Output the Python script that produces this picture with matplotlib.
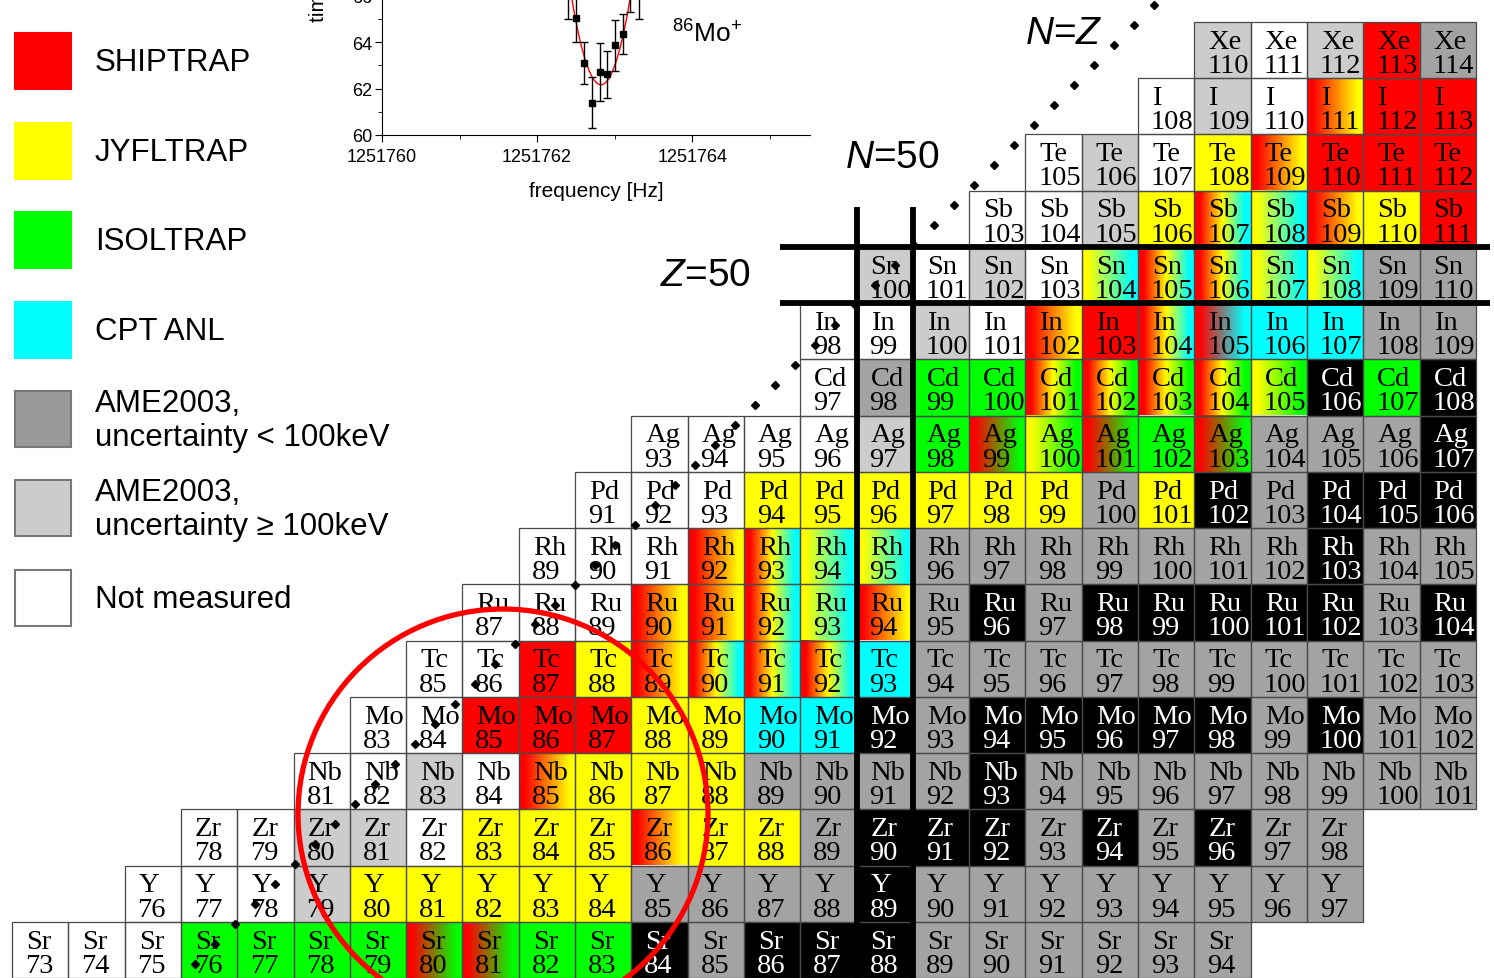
import numpy as np
import matplotlib.pyplot as plt
from matplotlib.patches import Rectangle, Circle

plt.rcParams['font.family'] = ['Liberation Sans', 'DejaVu Sans']
plt.rcParams['mathtext.fontset'] = 'custom'
plt.rcParams['mathtext.rm'] = 'Liberation Sans'
plt.rcParams['mathtext.it'] = 'Liberation Sans:italic'

# chart of nuclides, one row per element
elements = ['Sr', 'Y', 'Zr', 'Nb', 'Mo', 'Tc', 'Ru', 'Rh', 'Pd', 'Ag', 'Cd', 'In', 'Sn', 'Sb', 'Te', 'I', 'Xe']
z_values = [38, 39, 40, 41, 42, 43, 44, 45, 46, 47, 48, 49, 50, 51, 52, 53, 54]
first_mass = [73, 76, 78, 81, 83, 85, 87, 89, 91, 93, 97, 98, 100, 103, 105, 108, 110]
# R SHIPTRAP, Y JYFLTRAP, G ISOLTRAP, C CPT, D AME<100keV, L AME>=100keV, W not measured, K stable
cell_codes = [
    'W W W G G G G RG RG G G K D K K K D D D D D D',
    'W W W L Y Y Y Y Y D D D D K D D D D D D D D',
    'W W L L W Y Y Y RY Y Y D K K K D K D K D D',
    'W W L W RY Y Y Y D D D D K D D D D D D D D',
    'W W R R R Y Y C C K D K K K K K D K D D',
    'W W R Y RY RYC RYC RYC C D D D D D D D D D D',
    'W W W RY RY RYC YC RY D K D K K K K K D K',
    'W W W RY RYC YC YC D D D D D D D K D D',
    'W W W Y Y Y Y Y Y D Y K D K K K',
    'W W W W L G RG YG RG G RG D D D K',
    'W D G G RYG RYG RYG RYG YG K G K',
    'W W L W RY R RYC RC C C D D',
    'L W L W YC RYC RYC YC YC D D',
    'W W L Y RYC YC RY Y R',
    'W L W Y RY R R R',
    'W L W RY R R',
    'L W L R D',
]

# inset: time-of-flight resonance of 86Mo+
freq = [1251762.40, 1251762.503, 1251762.602, 1251762.706, 1251762.809,
        1251762.903, 1251763.006, 1251763.105, 1251763.20, 1251763.31]
tof = [66.2, 65.02, 63.10, 61.38, 62.71, 62.61, 63.86, 64.34, 66.6, 66.3]
tof_err = [1.2, 1.0, 0.9, 1.1, 1.25, 1.0, 1.1, 0.85, 1.3, 1.3]
fit_freq = [1251762.42, 1251762.47, 1251762.52, 1251762.57, 1251762.62, 1251762.67,
            1251762.72, 1251762.77, 1251762.82, 1251762.87, 1251762.92, 1251762.97,
            1251763.02, 1251763.07, 1251763.12, 1251763.17, 1251763.22]
fit_tof = [66.43, 65.43, 64.57, 63.84, 63.24, 62.77, 62.43, 62.23, 62.15, 62.21,
           62.39, 62.71, 63.16, 63.74, 64.45, 65.29, 66.26]
freq_ticks = [1251760, 1251762, 1251764]

legend_colors = ['#ff0000', '#ffff00', '#00ff00', '#00ffff', '#999999', '#cccccc', '#ffffff']
legend_labels = ['SHIPTRAP', 'JYFLTRAP', 'ISOLTRAP', 'CPT ANL',
                 'AME2003,\nuncertainty < 100keV', 'AME2003,\nuncertainty \u2265 100keV', 'Not measured']

base = {'R': (1, 0, 0), 'Y': (1, 1, 0), 'G': (0, 1, 0), 'C': (0, 1, 1),
        'D': (.64, .64, .64), 'L': (.8, .8, .8), 'W': (1, 1, 1), 'K': (0, 0, 0)}


def gradient(code):
    cols = np.array([base[c] for c in code])
    stops = np.linspace(0.1, 0.9, len(code))
    t = np.linspace(0, 1, 64)
    img = np.stack([np.interp(t, stops, cols[:, k]) for k in range(3)], axis=-1)
    return img[None, :, :]


fig = plt.figure(figsize=(14.94, 9.79), dpi=100)
ax = fig.add_axes([0, 0, 1, 1])
ax.set_xlim(34.5 - 12 / 56.3, 34.5 + 1482 / 56.3)
ax.set_ylim(37.5, 37.5 + 979 / 56.25)
ax.axis('off')

for el, z, a0, codes in zip(elements, z_values, first_mass, cell_codes):
    for i, code in enumerate(codes.split()):
        a = a0 + i
        n = a - z
        if len(code) == 1:
            ax.add_patch(Rectangle((n - 0.5, z - 0.5), 1, 1, fc=base[code], ec='none', zorder=1))
        else:
            ax.imshow(gradient(code), extent=[n - 0.5, n + 0.5, z - 0.5, z + 0.5],
                      aspect='auto', interpolation='bilinear', zorder=1)
        ax.add_patch(Rectangle((n - 0.5, z - 0.5), 1, 1, fc='none', ec='#4a4a4a', lw=0.9, zorder=2))
        tc = 'white' if code == 'K' else 'black'
        ax.text(n - 0.25, z + 0.04, el, ha='left', va='baseline', fontsize=20.5,
                family='Liberation Serif', color=tc, zorder=3)
        ax.text(n - 0.27, z - 0.39, str(a), ha='left', va='baseline', fontsize=20.5,
                family='Liberation Serif', color=tc, zorder=3)

# magic numbers N=50, Z=50
for n in [49.5, 50.5]:
    ax.plot([n, n], [37.4, 51.2], color='black', lw=4.2, zorder=5, solid_capstyle='butt')
for z in [49.5, 50.5]:
    ax.plot([48.14, 60.75], [z, z], color='black', lw=4.2, zorder=5, solid_capstyle='butt')

# N=Z line
nz = np.arange(37.75, 54.8, 0.355)
ax.plot(nz, nz, ls='none', marker='D', ms=4.5, color='black', zorder=6)

# inset
ax_in = fig.add_axes([382 / 1494, 1 - 136 / 979, 428 / 1494, 232.5 / 979])
ax_in.patch.set_alpha(0)
ax_in.set_xlim(1251760, 1251765.52)
ax_in.set_ylim(60, 70)
ax_in.plot(fit_freq, fit_tof, color='red', lw=1)
ax_in.errorbar(freq, tof, yerr=tof_err, fmt='s', color='black', ms=5, elinewidth=1, capsize=3)
ax_in.set_xticks(freq_ticks)
ax_in.set_xticklabels([str(f) for f in freq_ticks])
ax_in.set_xticks([1251761, 1251763, 1251765], minor=True)
ax_in.set_yticks([60, 62, 64, 66])
ax_in.set_yticks([61, 63, 65, 67], minor=True)
ax_in.tick_params(labelsize=13, direction='out', length=5, pad=2)
ax_in.tick_params(axis='x', pad=4)
ax_in.tick_params(which='minor', direction='out', length=3)
ax_in.spines['top'].set_visible(False)
ax_in.spines['right'].set_visible(False)
ax_in.set_xlabel('frequency [Hz]', fontsize=15, labelpad=12)

# overlay in pixel coordinates
ov = fig.add_axes([0, 0, 1, 1])
ov.set_xlim(0, 1494)
ov.set_ylim(979, 0)
ov.axis('off')

ov.text(318, 22, 'time of flight [\u00b5s]', rotation=90, ha='center', va='bottom', fontsize=15)
ov.text(672, 43, r'$^{86}$Mo$^{+}$', fontsize=19, va='baseline')
ov.text(1025, 44, r'$N$=$Z$', fontsize=28, va='baseline')
ov.text(845, 168, r'$N$=50', fontsize=28, va='baseline')
ov.text(660, 286, r'$Z$=50', fontsize=28, va='baseline')

box_top = [34, 124, 213, 303, 392, 481, 571]
for top, col, lab in zip(box_top, legend_colors, legend_labels):
    ec = col if col in ['#ff0000', '#ffff00', '#00ff00', '#00ffff'] else '#777777'
    ov.add_patch(Rectangle((15, top), 56, 56, fc=col, ec=ec, lw=1.5))
    ov.text(95, top + 29, lab, fontsize=22.5, va='center', ha='left', linespacing=1.2)

ov.add_patch(Circle((503, 815), 205, fill=False, ec='red', lw=3.8))

fig.savefig('out.png', dpi=100)
